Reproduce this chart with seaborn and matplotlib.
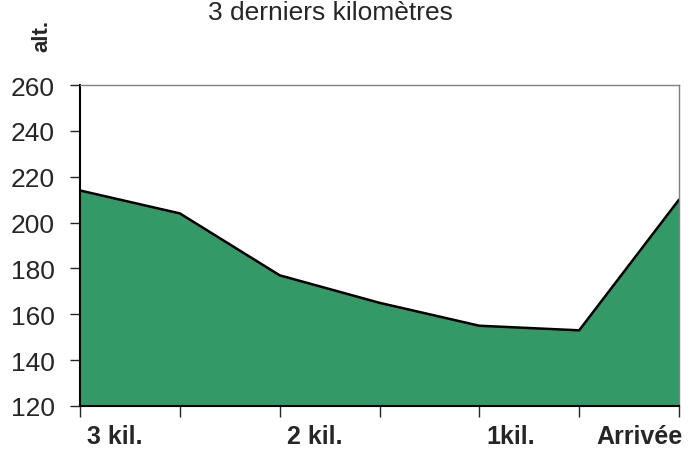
import matplotlib
matplotlib.use("Agg")
import matplotlib.pyplot as plt
import matplotlib.transforms as mtransforms
import seaborn as sns
import pandas as pd

# profile of the last 3 km
positions = [0, 1, 2, 3, 4, 5, 6]
tick_labels = ["3 kil.", "", "2 kil.", "", "1kil.", "", "Arrivée"]
altitude = [214, 204, 177, 165, 155, 153, 210]

df = pd.DataFrame({"pos": positions, "alt": altitude})

sns.set_style("white")
plt.rcParams["font.family"] = ["Liberation Sans", "DejaVu Sans"]

fig = plt.figure(figsize=(6.89, 4.52), dpi=100)
ax = fig.add_axes([0.1161, 0.0996, 0.8694, 0.7101])

ax.fill_between(df["pos"], df["alt"], 120, color="#339966", linewidth=0)
sns.lineplot(data=df, x="pos", y="alt", ax=ax, color="black", linewidth=1.8)

ax.set_xlim(0, 6)
ax.set_ylim(120, 260)
ax.set_yticks(range(120, 261, 20))
ax.set_xticks(positions)
ax.set_xticklabels(tick_labels, fontsize=18, fontweight="bold", ha="left")
ax.tick_params(axis="y", labelsize=19, direction="out", length=7, width=1, left=True, pad=11)
ax.tick_params(axis="x", direction="out", length=8, width=1, bottom=True, pad=5)
ax.set_xlabel("")
ax.set_ylabel("")

# labels sit just right of their tick, the last one is pushed back inside the figure
for lbl in ax.get_xticklabels()[:-1]:
    lbl.set_transform(lbl.get_transform() + mtransforms.ScaledTranslation(7 / 100, 0, fig.dpi_scale_trans))
last = ax.get_xticklabels()[-1]
last.set_ha("right")
last.set_transform(last.get_transform() + mtransforms.ScaledTranslation(4 / 100, 0, fig.dpi_scale_trans))

for side in ["left", "bottom"]:
    ax.spines[side].set_color("black")
    ax.spines[side].set_linewidth(1.5)
for side in ["top", "right"]:
    ax.spines[side].set_color("#808080")
    ax.spines[side].set_linewidth(1.0)

fig.text(0.480, 0.956, "3 derniers kilomètres", ha="center", va="baseline", fontsize=19)
fig.text(0.061, 0.92, "alt.", ha="center", va="center", rotation=90,
         fontsize=16, fontweight="bold")

fig.savefig("out.png", dpi=100)
